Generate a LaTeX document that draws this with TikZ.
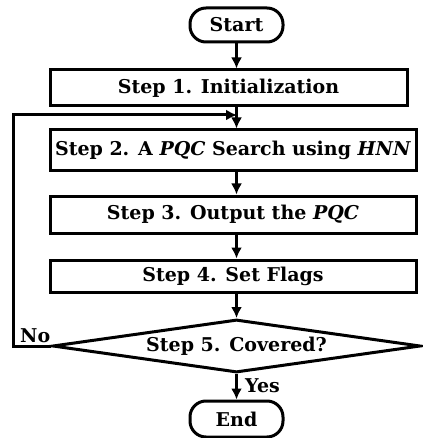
\documentclass[tikz,border=0pt]{standalone}
\usepackage{fontspec}
\setmainfont{DejaVu Serif}
\usetikzlibrary{shapes.geometric,arrows.meta}
\begin{document}
\begin{tikzpicture}[x=1pt,y=-1pt,
  box/.style={draw,line width=3pt,inner sep=0pt,font=\fontsize{19}{21}\selectfont\bfseries},
  term/.style={box,rounded corners=16pt},
  arr/.style={line width=3pt,-{Latex[length=11pt,width=11pt]}},
  lbl/.style={font=\fontsize{19}{21}\selectfont\bfseries,inner sep=0pt}]
\useasboundingbox (0,0) rectangle (422,438);
\node[term,minimum width=93,minimum height=34] (start) at (236.5,25) {Start};
\node[box,minimum width=357,minimum height=36] (s1) at (228.5,88) {Step 1. Initialization};
\node[box,minimum width=366,minimum height=41] (s2) at (233,150.5) {Step 2. A \textit{PQC} Search using \textit{HNN}};
\node[box,minimum width=366,minimum height=37] (s3) at (233,214.5) {Step 3. Output the \textit{PQC}};
\node[box,minimum width=366,minimum height=32] (s4) at (233,276) {Step 4. Set Flags};
\node[draw,diamond,line width=3pt,inner sep=0pt,aspect=6.96,minimum width=368,minimum height=53] (d) at (236.5,346) {};
\node[lbl] (dt) at (236.5,346) {Step 5. Covered?};
\node[term,minimum width=93,minimum height=36] (end) at (236.5,419) {End};
\coordinate (j) at (237,115);
\coordinate (lp) at (13,346);
\draw[arr] (start.south) -- (start.south |- s1.north);
\draw[arr] (start.south |- s1.south) -- (start.south |- s2.north);
\draw[arr] (start.south |- s2.south) -- (start.south |- s3.north);
\draw[arr] (start.south |- s3.south) -- (start.south |- s4.north);
\draw[arr] (start.south |- s4.south) -- (d.north);
\draw[arr] (d.south) -- (end.north);
\draw[arr] (d.west) -- (lp) |- (j);
\node[lbl,anchor=south west] (no) at (20,343) {No};
\node[lbl,anchor=west] (yes) at (245,386) {Yes};
\end{tikzpicture}
\end{document}
